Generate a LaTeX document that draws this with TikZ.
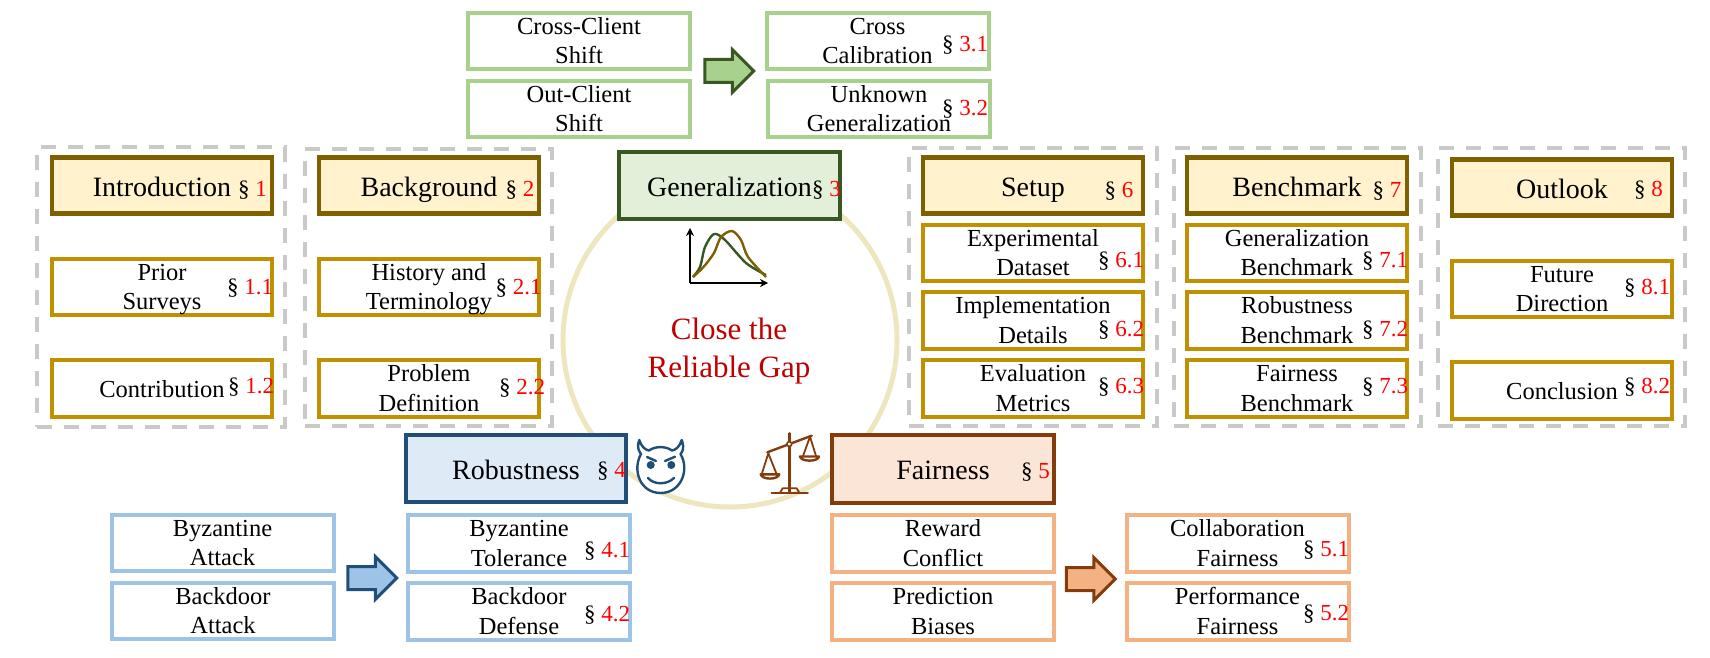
\documentclass[tikz,border=0pt]{standalone}
\usepackage{fontspec}
\setmainfont{Liberation Serif}
\usetikzlibrary{shapes.arrows, arrows.meta}
\definecolor{rgGold}{HTML}{BF9000}
\definecolor{rgBrown}{HTML}{7F6000}
\definecolor{rgCream}{HTML}{FFF2CC}
\definecolor{rgGreen}{HTML}{A9D18E}
\definecolor{rgGreenDk}{HTML}{385723}
\definecolor{rgGreenLt}{HTML}{E2F0D9}
\definecolor{rgBlue}{HTML}{9DC3E6}
\definecolor{rgBlueDk}{HTML}{1F4E79}
\definecolor{rgBlueLt}{HTML}{DEEBF7}
\definecolor{rgOrange}{HTML}{F4B183}
\definecolor{rgOrangeDk}{HTML}{843C0C}
\definecolor{rgOrangeLt}{HTML}{FBE5D6}
\definecolor{rgRing}{HTML}{EDE6BE}
\definecolor{rgDash}{HTML}{C9C9C9}
\definecolor{rgGap}{HTML}{C00000}
\tikzset{
  secbox/.style={draw=rgBrown, fill=rgCream, line width=4.5pt, inner sep=0pt, outer sep=0pt,
                 minimum width=220pt, minimum height=56pt, text height=21pt, text depth=0pt,
                 font=\fontsize{28}{32}\selectfont},
  secsub/.style={draw=rgGold, fill=white, line width=4pt, inner sep=0pt, outer sep=0pt, align=center,
                 minimum width=220pt, minimum height=56.5pt, text height=45.5pt, text depth=0pt,
                 font=\fontsize{24.5}{29.5}\selectfont},
  secone/.style={secsub, text height=18pt},
  greensub/.style={secsub, draw=rgGreen, minimum width=222pt},
  bluesub/.style={secsub, draw=rgBlue, minimum width=222pt},
  orangesub/.style={secsub, draw=rgOrange, minimum width=222pt},
  grouprect/.style={draw=rgDash, line width=4pt, dash pattern=on 15pt off 12pt, inner sep=0pt, outer sep=0pt},
  seclabel/.style={anchor=base west, inner sep=0pt, outer sep=0pt, font=\fontsize{23}{26}\selectfont},
  blockarrow/.style={single arrow, line width=3pt, inner sep=0pt, outer sep=0pt, minimum height=49pt,
                     minimum width=40pt, text height=20pt, text depth=0pt,
                     single arrow head extend=10pt, single arrow tip angle=90},
  chartaxis/.style={line width=2pt, -{Stealth[length=8pt,width=8pt]}},
  chartline/.style={line width=2.4pt, line join=round},
  iconline/.style={line width=2.4pt, line cap=round, line join=round},
}
\newcommand{\secref}[1]{§ \textcolor{red}{#1}}
\begin{document}
\begin{tikzpicture}[x=1pt, y=-1pt]
\useasboundingbox (0,0) rectangle (1710,658);
\node[circle, draw=rgRing, line width=5pt, minimum size=334pt, inner sep=0pt] (ring) at (730,340) {};

\node[grouprect, minimum width=247.5pt, minimum height=280pt] (introgroup) at (161,287) {};
\node[grouprect, minimum width=247pt, minimum height=277pt] (backgroup) at (428.5,287.5) {};
\node[grouprect, minimum width=248pt, minimum height=278pt] (setupgroup) at (1033,287) {};
\node[grouprect, minimum width=247pt, minimum height=278pt] (benchgroup) at (1297.5,287) {};
\node[grouprect, minimum width=247pt, minimum height=278pt] (outlookgroup) at (1561.5,287) {};

\node[greensub] (crossshift) at (579,41) {Cross-Client\\Shift};
\node[greensub] (outshift) at (579,109) {Out-Client\\Shift};
\node[greensub] (crosscal) at (877.5,41) {Cross\\Calibration};
\node[greensub] (unknowngen) at (879,109) {Unknown\\Generalization};
\node[blockarrow, draw=rgGreenDk, fill=rgGreen] (greenarrow) at (723.5,71) {};
\node[secbox, draw=rgGreenDk, fill=rgGreenLt, minimum width=221pt, minimum height=67pt] (general) at (729.5,185.5) {Generalization};

\node[secbox] (intro) at (162,185.5) {Introduction};
\node[secsub] (prior) at (162,287) {Prior\\Surveys};
\node[secone] (contrib) at (162,388.5) {Contribution};
\node[secbox] (backgr) at (429,185.5) {Background};
\node[secsub] (history) at (429,287) {History and\\Terminology};
\node[secsub] (problem) at (429,388.5) {Problem\\Definition};

\node[secbox] (setup) at (1033,185.5) {Setup};
\node[secsub] (dataset) at (1033,253) {Experimental\\Dataset};
\node[secsub] (details) at (1033,320.5) {Implementation\\Details};
\node[secsub] (metrics) at (1033,388.5) {Evaluation\\Metrics};
\node[secbox] (bench) at (1297,185.5) {Benchmark};
\node[secsub] (genbench) at (1297,253) {Generalization\\Benchmark};
\node[secsub] (robbench) at (1297,320.5) {Robustness\\Benchmark};
\node[secsub] (fairbench) at (1297,388.5) {Fairness\\Benchmark};
\node[secbox] (outlook) at (1562,187.5) {Outlook};
\node[secsub] (future) at (1562,289) {Future\\Direction};
\node[secone] (conclusion) at (1562,390.5) {Conclusion};

\node[secbox, draw=rgBlueDk, fill=rgBlueLt, minimum height=67pt] (robust) at (516,468.5) {Robustness};
\node[bluesub] (byzattack) at (222.5,543) {Byzantine\\Attack};
\node[bluesub] (backattack) at (223,611) {Backdoor\\Attack};
\node[bluesub] (byztol) at (519,543.5) {Byzantine\\Tolerance};
\node[bluesub] (backdef) at (519,611.5) {Backdoor\\Defense};
\node[blockarrow, draw=rgBlueDk, fill=rgBlue] (bluearrow) at (366.5,578) {};

\node[secbox, draw=rgOrangeDk, fill=rgOrangeLt, minimum width=222pt, minimum height=68pt] (fair) at (943,469) {Fairness};
\node[orangesub] (reward) at (943,543.5) {Reward\\Conflict};
\node[orangesub] (biases) at (943,611.5) {Prediction\\Biases};
\node[orangesub] (collab) at (1237.5,543.5) {Collaboration\\Fairness};
\node[orangesub] (perform) at (1237.5,611.5) {Performance\\Fairness};
\node[blockarrow, draw=rgOrangeDk, fill=rgOrange] (orangearrow) at (1085,579) {};

\node[seclabel] (lb1) at (238,196) {\secref{1}};
\node[seclabel] (lb11) at (227,294) {\secref{1.1}};
\node[seclabel] (lb12) at (228,393) {\secref{1.2}};
\node[seclabel] (lb2) at (505.5,196) {\secref{2}};
\node[seclabel] (lb21) at (495.5,294) {\secref{2.1}};
\node[seclabel] (lb22) at (499,394) {\secref{2.2}};
\node[seclabel] (lb3) at (812,196) {\secref{3}};
\node[seclabel] (lb31) at (942,52) {\secref{3.1}};
\node[seclabel] (lb32) at (942,116) {\secref{3.2}};
\node[seclabel] (lb4) at (597,477) {\secref{4}};
\node[seclabel] (lb41) at (584,557) {\secref{4.1}};
\node[seclabel] (lb42) at (584,621) {\secref{4.2}};
\node[seclabel] (lb5) at (1021,478) {\secref{5}};
\node[seclabel] (lb51) at (1303,556) {\secref{5.1}};
\node[seclabel] (lb52) at (1303,620) {\secref{5.2}};
\node[seclabel] (lb6) at (1104.5,197) {\secref{6}};
\node[seclabel] (lb61) at (1098,267) {\secref{6.1}};
\node[seclabel] (lb62) at (1098,336) {\secref{6.2}};
\node[seclabel] (lb63) at (1098,393) {\secref{6.3}};
\node[seclabel] (lb7) at (1372.5,197) {\secref{7}};
\node[seclabel] (lb71) at (1362,267) {\secref{7.1}};
\node[seclabel] (lb72) at (1362,336) {\secref{7.2}};
\node[seclabel] (lb73) at (1362,393) {\secref{7.3}};
\node[seclabel] (lb8) at (1634,196) {\secref{8}};
\node[seclabel] (lb81) at (1624,294) {\secref{8.1}};
\node[seclabel] (lb82) at (1624,393) {\secref{8.2}};

\node[text=rgGap, align=center, inner sep=0pt, text height=59pt, text depth=0pt, font=\fontsize{31}{38}\selectfont] (gaptext) at (729,347.5) {Close the\\Reliable Gap};

\coordinate (chartorigin) at (690,283);
\coordinate (charttop) at (690,228);
\coordinate (chartright) at (768,283);
\draw[chartaxis] (chartorigin) -- (charttop);
\draw[chartaxis] (chartorigin) -- (chartright);
\draw[chartline, rgGreenDk] plot[smooth] coordinates {(693,277) (700,267) (705,247) (714,234) (725,240) (746,263) (766,275)};
\draw[chartline, rgBrown] plot[smooth] coordinates {(693,277) (703.5,267) (714,253) (721,237) (732,231) (741,240) (748,257) (766,277)};

\draw[iconline, rgBlueDk, fill=white] (639.3,440) .. controls (636,449) and (640,452) .. (641,454) .. controls (632,470) and (640,493) .. (660.7,493) .. controls (681,493) and (690,470) .. (680.5,454) .. controls (682,452) and (685,449) .. (681.7,440) .. controls (680,446) and (676,450) .. (672,450.5) .. controls (666,446) and (655,446) .. (649,450.5) .. controls (645,450) and (641,446) .. (639.3,440) -- cycle;
\fill[rgBlueDk] (650.7,465) circle (4pt) (671.3,465) circle (4pt);
\draw[iconline, rgBlueDk] (647,457) -- (656,461) (665,461) -- (675,456.7);
\draw[iconline, rgBlueDk] (648,478) .. controls (654,485) and (667,485) .. (674,478);

\draw[iconline, rgOrangeDk] (789.3,433.3) -- (789.3,492.7);
\draw[iconline, rgOrangeDk] (771.7,492.7) -- (807.7,492.7);
\draw[iconline, rgOrangeDk, line width=1.8pt] (780,492.7) -- (782.7,488.3) -- (796.7,488.3) -- (799.3,492.7);
\draw[iconline, rgOrangeDk] (767.3,452.3) -- (811.7,435.7);
\draw[iconline, rgOrangeDk, line width=1.6pt, fill=white] (789.3,444) circle (2.4pt);
\draw[iconline, rgOrangeDk, line width=1.8pt] (761.7,474.3) -- (768.3,453.3) -- (776.7,474.3);
\draw[iconline, rgOrangeDk, line width=1.8pt] (803,456) -- (810,436.7) -- (816,456);
\draw[iconline, rgOrangeDk, fill=white] (760.7,474.3) -- (779.3,474.3) .. controls (778,480) and (762,480) .. (760.7,474.3) -- cycle;
\draw[iconline, rgOrangeDk, fill=white] (800,456.5) -- (819,456.5) .. controls (818,462) and (801,462) .. (800,456.5) -- cycle;
\end{tikzpicture}
\end{document}
